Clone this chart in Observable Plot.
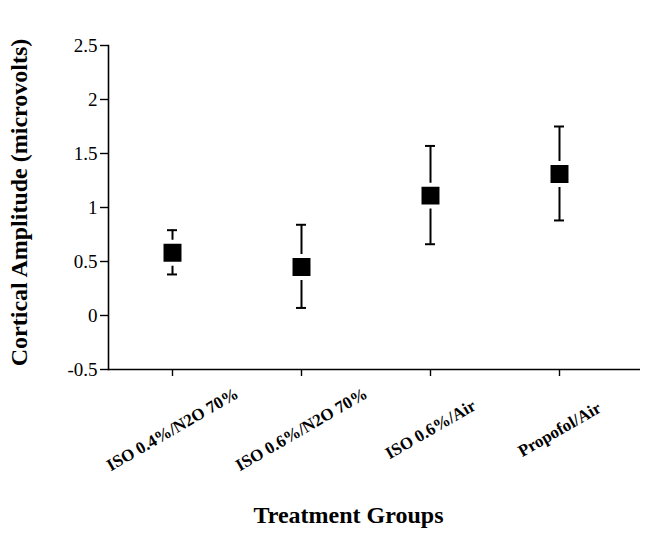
<!DOCTYPE html>
<html>
<head>
<meta charset="utf-8">
<script src="https://cdn.jsdelivr.net/npm/d3@7"></script>
<script src="https://cdn.jsdelivr.net/npm/@observablehq/plot@0.6"></script>
<style>
  html, body { margin: 0; padding: 0; background: #fff; }
  #chart { width: 650px; height: 534px; }
</style>
</head>
<body>
<div id="chart"></div>
<script>
const groups = ["ISO 0.4%/N2O 70%", "ISO 0.6%/N2O 70%", "ISO 0.6%/Air", "Propofol/Air"];
const means = [0.58, 0.45, 1.11, 1.31];
const lower = [0.38, 0.07, 0.66, 0.88];
const upper = [0.79, 0.84, 1.57, 1.75];
const yTicks = [-0.5, 0, 0.5, 1, 1.5, 2, 2.5];
const yTitle = "Cortical Amplitude (microvolts)";
const xTitle = "Treatment Groups";

const data = groups.map((g, i) => ({group: g, mean: means[i], lo: lower[i], hi: upper[i]}));
const serif = "'Liberation Serif', 'Times New Roman', serif";

const chart = Plot.plot({
  width: 650,
  height: 534,
  marginTop: 45,
  marginBottom: 165,
  marginLeft: 108,
  marginRight: 10,
  style: {fontFamily: serif, background: "#fff", color: "#000"},
  x: {type: "band", domain: groups, paddingInner: 1, paddingOuter: 0, insetLeft: 63, insetRight: 80},
  y: {domain: [yTicks[0], yTicks[yTicks.length - 1]]},
  marks: [
    Plot.frame({anchor: "left", strokeWidth: 1.6}),
    Plot.ruleY([yTicks[0]], {strokeWidth: 1.6}),
    Plot.axisY({ticks: yTicks, tickFormat: d => String(d), tickSize: 8, tickPadding: 3, fontSize: 19, label: null, strokeWidth: 1.4}),
    Plot.axisX({tickSize: 7, tickFormat: () => "", label: null, strokeWidth: 1.4}),
    Plot.text(groups, {x: d => d, frameAnchor: "bottom", lineAnchor: "middle", dy: 60, rotate: -30, textAnchor: "middle", fontSize: 17, fontWeight: "bold"}),
    Plot.text([yTitle], {frameAnchor: "left", textAnchor: "middle", lineAnchor: "middle", dx: -89, dy: -5, rotate: -90, fontSize: 24, fontWeight: "bold"}),
    Plot.text([xTitle], {frameAnchor: "bottom", textAnchor: "middle", lineAnchor: "middle", dx: -26, dy: 146, fontSize: 24, fontWeight: "bold"}),
    Plot.ruleX(data, {x: "group", y1: "lo", y2: "hi", strokeWidth: 2}),
    Plot.tickY(data, {x: "group", y: "lo", insetLeft: -5, insetRight: -5, strokeWidth: 2}),
    Plot.tickY(data, {x: "group", y: "hi", insetLeft: -5, insetRight: -5, strokeWidth: 2}),
    Plot.dot(data, {x: "group", y: "mean", symbol: "square", r: 12.4, fill: "#000", stroke: "#fff", strokeWidth: 4})
  ]
});
document.getElementById("chart").appendChild(chart);
</script>
</body>
</html>
